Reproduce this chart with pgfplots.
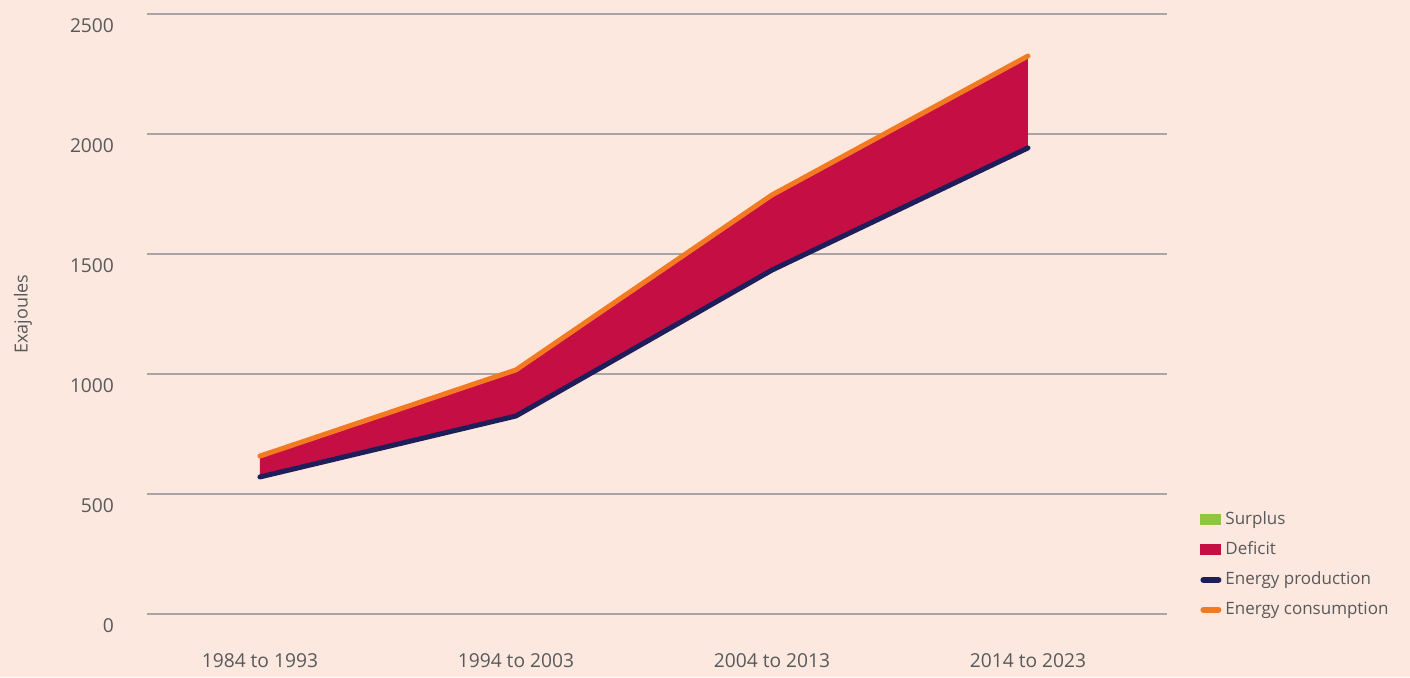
\documentclass[border=0pt]{standalone}
\usepackage{pgfplots}
\pgfplotsset{compat=1.18}
\usepackage{fontspec}
\setmainfont{Open Sans}
\definecolor{bg}{HTML}{FCE8DF}
\definecolor{deficit}{HTML}{C40E44}
\definecolor{prod}{HTML}{1E1E5A}
\definecolor{cons}{HTML}{F47A22}
\definecolor{surplus}{HTML}{8DC641}
\definecolor{txt}{HTML}{58595B}
\definecolor{grid}{HTML}{A8A6A4}
\begin{document}
\begin{tikzpicture}
\useasboundingbox (-73.5pt,-31.5pt) rectangle (631.5pt,307pt);
\fill[bg] (-73.5pt,-31.5pt) rectangle (631.5pt,307pt);
\begin{axis}[
  at={(0pt,0pt)}, anchor=south west,
  scale only axis, width=510pt, height=300pt,
  xmin=-0.441, xmax=3.543, ymin=0, ymax=2500,
  axis line style={draw=none},
  ytick={0,500,1000,1500,2000,2500},
  xtick={0,1,2,3},
  xticklabels={1984 to 1993,1994 to 2003,2004 to 2013,2014 to 2023},
  ymajorgrids=true, xmajorgrids=false,
  y grid style={grid, line width=0.65pt},
  major tick length=0pt,
  tick label style={font=\fontsize{9.6}{11}\selectfont, text=txt},
  /pgf/number format/assume math mode=true,
  /pgf/number format/1000 sep={},
  yticklabel style={anchor=east, xshift=-13pt, yshift=-6pt},
  xticklabel style={anchor=center, yshift=-23.5pt},
  ylabel={Exajoules},
  ylabel style={font=\fontsize{9}{10}\selectfont, text=txt, at={(rel axis cs:-0.1216,0.5)}, anchor=center},
  clip=false,
  legend style={at={(rel axis cs:1.032,0.178)}, anchor=north west, draw=none, fill=none,
    font=\fontsize{8.5}{10}\selectfont, text=txt, row sep=3.1pt, inner sep=0pt},
  legend cell align=left,
]
\addlegendimage{legend image code/.code={\fill[surplus] (0pt,-2.5pt) rectangle (10pt,2.5pt);}}
\addlegendentry{Surplus}
\addlegendimage{legend image code/.code={\fill[deficit] (0pt,-2.5pt) rectangle (10pt,2.5pt);}}
\addlegendentry{Deficit}
\addlegendimage{legend image code/.code={\draw[prod, line width=3pt, line cap=round] (1.5pt,0pt) -- (9pt,0pt);}}
\addlegendentry{Energy production}
\addlegendimage{legend image code/.code={\draw[cons, line width=3pt, line cap=round] (1.5pt,0pt) -- (9pt,0pt);}}
\addlegendentry{Energy consumption}

\addplot[fill=deficit, draw=none, forget plot] coordinates {(0,658) (1,1017) (2,1746) (3,2325) (3,1942) (2,1433) (1,825) (0,571)} -- cycle;
\addplot[prod, line width=2.5pt, line cap=round, line join=round, forget plot] coordinates {(0,571) (1,825) (2,1433) (3,1942)};
\addplot[cons, line width=2.5pt, line cap=round, line join=round, forget plot] coordinates {(0,658) (1,1017) (2,1746) (3,2325)};
\end{axis}
\end{tikzpicture}
\end{document}
